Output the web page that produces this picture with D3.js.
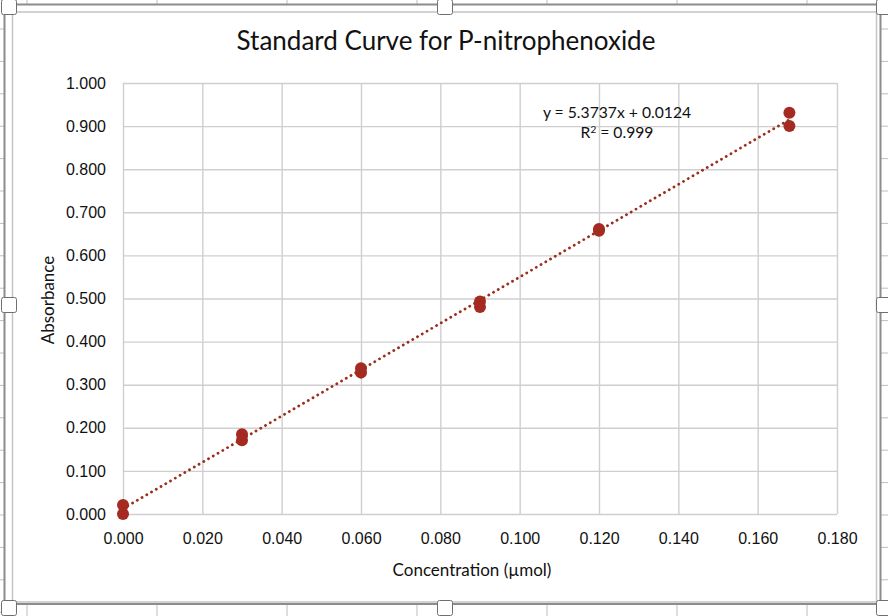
<!DOCTYPE html>
<html>
<head>
<meta charset="utf-8">
<script src="https://cdn.jsdelivr.net/npm/d3@7"></script>
<style>
  body { margin: 0; background: #fff; }
  svg { display: block; font-family: Lato, "Noto Sans", sans-serif; }
  .grid line { stroke: #cfcfcf; stroke-width: 1.4; }
  .grid path { display: none; }
  .tick text { fill: #111; font-size: 16px; }
</style>
</head>
<body>
<div id="chart"></div>
<script>
// concentration (umol) and absorbance readings, two replicates each
var concentration = [0, 0, 0.03, 0.03, 0.06, 0.06, 0.09, 0.09, 0.12, 0.12, 0.168, 0.168];
var absorbance = [0.021, 0.000, 0.185, 0.171, 0.338, 0.328, 0.493, 0.480, 0.661, 0.657, 0.931, 0.900];
var xTicks = [0, 0.02, 0.04, 0.06, 0.08, 0.10, 0.12, 0.14, 0.16, 0.18];
var yTicks = [0, 0.1, 0.2, 0.3, 0.4, 0.5, 0.6, 0.7, 0.8, 0.9, 1.0];
var trendSlope = 5.3737, trendIntercept = 0.0124;
var trendRange = [0, 0.168];
var eqLabel = "y = 5.3737x + 0.0124";
var r2Label = "0.999";

var W = 888, H = 616;
var margin = { left: 123, right: 51, top: 83, bottom: 102 },
    width = W - margin.left - margin.right,
    height = H - margin.top - margin.bottom;

var svg = d3.select("#chart").append("svg").attr("width", W).attr("height", H);

// spreadsheet behind the chart object
var bg = svg.append("g");
var cols = d3.range(27, W, 130);
bg.selectAll(".colt").data(cols).enter().append("line")
  .attr("x1", function (d) { return d; }).attr("x2", function (d) { return d; })
  .attr("y1", 0).attr("y2", 4).attr("stroke", "#bdbdbd");
bg.selectAll(".colb").data(cols).enter().append("line")
  .attr("x1", function (d) { return d; }).attr("x2", function (d) { return d; })
  .attr("y1", 605).attr("y2", H).attr("stroke", "#bdbdbd");
var rows = d3.range(29, H, 32.4);
bg.selectAll(".rowl").data(rows).enter().append("line")
  .attr("x1", 0).attr("x2", 4).attr("y1", function (d) { return d; }).attr("y2", function (d) { return d; })
  .attr("stroke", "#bdbdbd");
bg.selectAll(".rowr").data(rows).enter().append("line")
  .attr("x1", 881).attr("x2", W).attr("y1", function (d) { return d; }).attr("y2", function (d) { return d; })
  .attr("stroke", "#bdbdbd");

// chart area + selection frame
svg.append("rect").attr("x", 12.5).attr("y", 12).attr("width", 864).attr("height", 590)
  .attr("fill", "#fff").attr("stroke", "#c4c4c4").attr("stroke-width", 1.5);
svg.append("rect").attr("x", 4.5).attr("y", 4.5).attr("width", 876).attr("height", 599.5)
  .attr("fill", "none").attr("stroke", "#8c8c8c").attr("stroke-width", 2);

var g = svg.append("g").attr("transform", "translate(" + margin.left + "," + margin.top + ")");

var x = d3.scaleLinear().domain([0, 0.18]).range([0, width]);
var y = d3.scaleLinear().domain([0, 1]).range([height, 0]);

g.append("g").attr("class", "grid").attr("transform", "translate(0," + height + ")")
  .call(d3.axisBottom(x).tickValues(xTicks).tickFormat(d3.format(".3f"))
    .tickSizeInner(-height).tickSizeOuter(0).tickPadding(19));
g.append("g").attr("class", "grid")
  .call(d3.axisLeft(y).tickValues(yTicks).tickFormat(d3.format(".3f"))
    .tickSizeInner(-width).tickSizeOuter(0).tickPadding(17));

var pts = concentration.map(function (c, i) { return { c: c, a: absorbance[i] }; });

g.selectAll(".dot").data(pts).enter().append("circle")
  .attr("class", "dot")
  .attr("cx", function (d) { return x(d.c); })
  .attr("cy", function (d) { return y(d.a); })
  .attr("r", 6)
  .attr("fill", "#a52a22");

// linear trendline
var line = d3.line().x(function (d) { return x(d); }).y(function (d) { return y(trendSlope * d + trendIntercept); });
g.append("path").datum(trendRange).attr("d", line)
  .attr("fill", "none").attr("stroke", "#9a2f1c").attr("stroke-width", 2.8)
  .attr("stroke-linecap", "round").attr("stroke-dasharray", "0.1 5.4");

// equation labels
g.append("text").attr("x", 494).attr("y", 35).attr("text-anchor", "middle")
  .style("font-size", "15.7px").attr("fill", "#111").text(eqLabel);
var r2 = g.append("text").attr("x", 494).attr("y", 55).attr("text-anchor", "middle")
  .style("font-size", "15.7px").attr("fill", "#111");
r2.append("tspan").text("R");
r2.append("tspan").attr("dy", -5).style("font-size", "10px").text("2");
r2.append("tspan").attr("dy", 5).text(" = " + r2Label);

// titles
svg.append("text").attr("x", 446).attr("y", 50).attr("text-anchor", "middle")
  .style("font-size", "26px").attr("fill", "#111").text("Standard Curve for P-nitrophenoxide");
svg.append("text").attr("x", 472).attr("y", 576).attr("text-anchor", "middle")
  .style("font-size", "17px").attr("fill", "#111").text("Concentration (\u00b5mol)");
svg.append("text").attr("transform", "translate(54,300) rotate(-90)").attr("text-anchor", "middle")
  .style("font-size", "17px").attr("fill", "#111").text("Absorbance");

// resize handles
var hx = [9, 445, 884], hy = [7, 305, 608], handles = [];
hx.forEach(function (a) { hy.forEach(function (b) { if (!(a == 445 && b == 305)) handles.push([a, b]); }); });
svg.selectAll(".handle").data(handles).enter().append("rect")
  .attr("x", function (d) { return d[0] - 7.5; }).attr("y", function (d) { return d[1] - 7.5; })
  .attr("width", 15).attr("height", 15).attr("rx", 2)
  .attr("fill", "#fff").attr("stroke", "#6f6f6f").attr("stroke-width", 1);
</script>
</body>
</html>
